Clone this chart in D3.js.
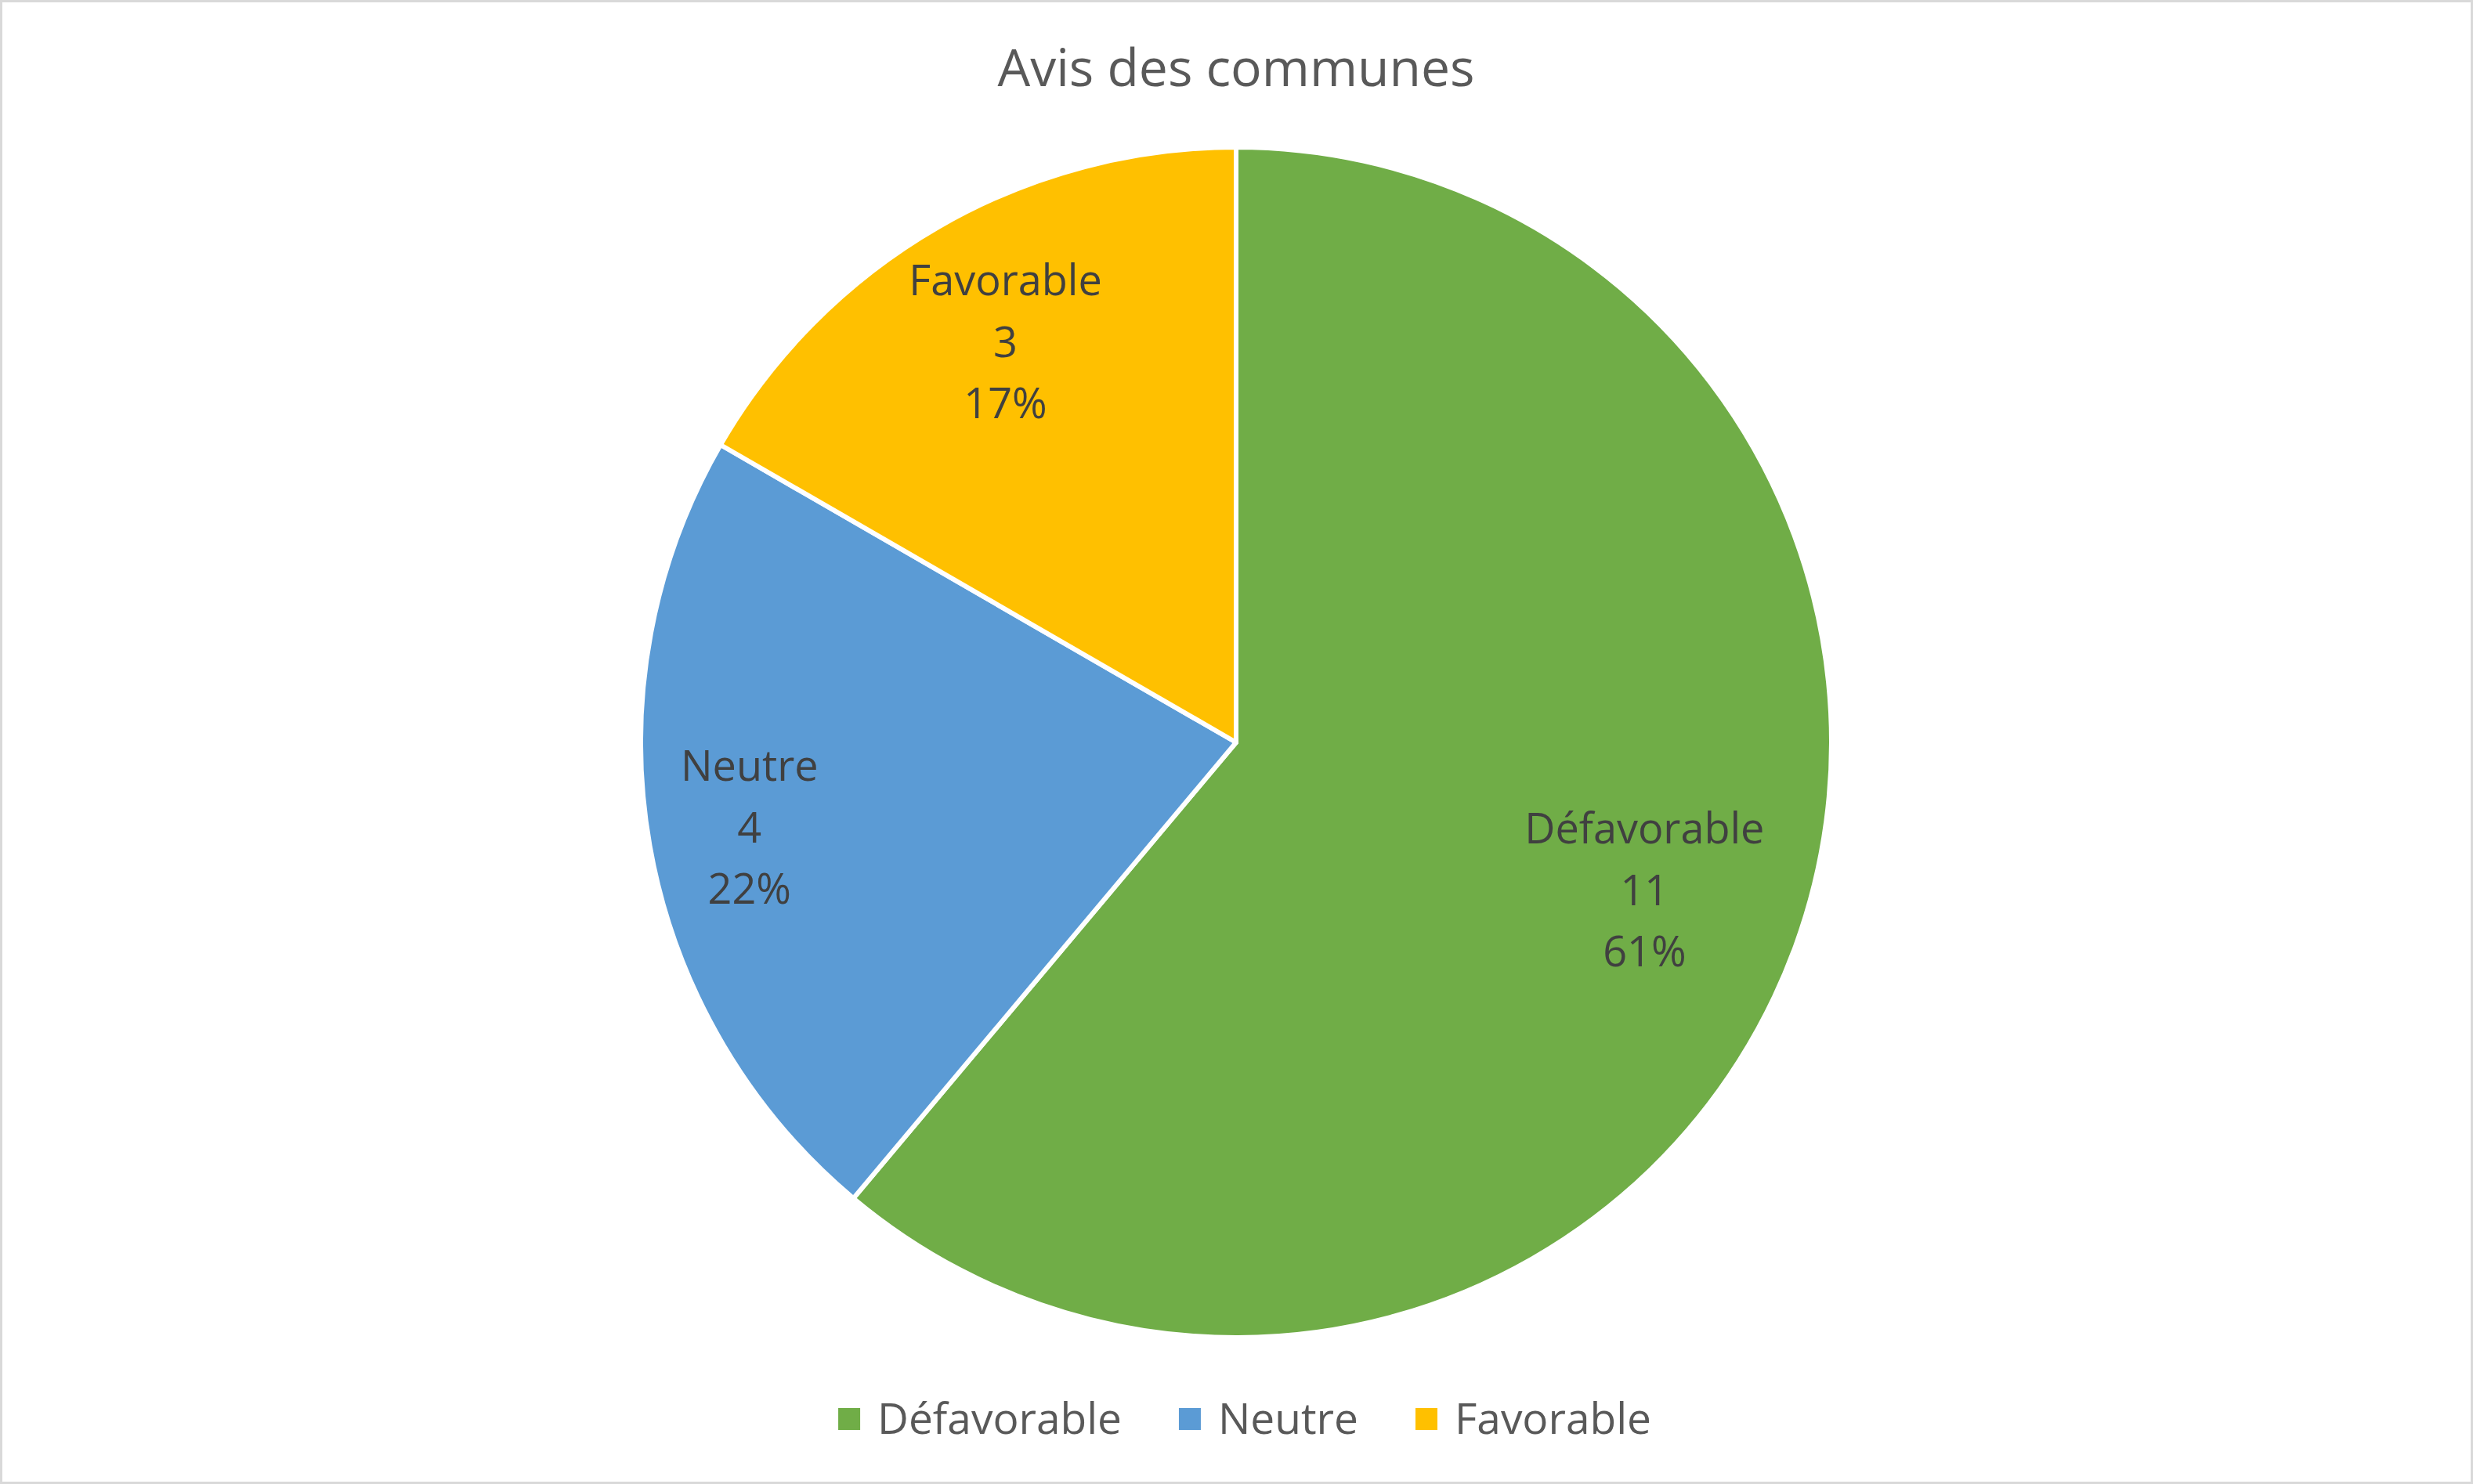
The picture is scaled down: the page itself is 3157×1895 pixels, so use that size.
<!DOCTYPE html>
<html>
<head>
<meta charset="utf-8">
<script src="https://cdn.jsdelivr.net/npm/d3@7"></script>
<style>
  html, body { margin: 0; padding: 0; background: #fff; }
  svg { display: block; font-family: "Open Sans", sans-serif; }
</style>
</head>
<body>
<div id="chart"></div>
<script>
(function () {
  'use strict';

  // data
  const CATEGORIES = ['Défavorable', 'Neutre', 'Favorable'];
  const VALUES = [11, 4, 3];
  const COLORS = ['#70AD47', '#5B9BD5', '#FFC000'];
  const TITLE = 'Avis des communes';

  // label placement along the slice bisector, as a fraction of the radius ("best fit")
  const LABEL_K = [0.73, 0.83, 0.775];

  const W = 3157, H = 1895;
  const cx = 1578, cy = 948, R = 760;

  const svg = d3.select('#chart').append('svg').attr('width', W).attr('height', H);

  // outer frame
  svg.append('rect').attr('x', 1.5).attr('y', 1.5).attr('width', W - 3).attr('height', H - 3)
    .attr('fill', '#fff').attr('stroke', '#D9D9D9').attr('stroke-width', 3);

  // title
  svg.append('text').attr('x', 1578).attr('y', 110).attr('text-anchor', 'middle')
    .style('font-size', '66px').style('fill', '#595959').text(TITLE);

  const data = CATEGORIES.map((c, i) => ({ cat: c, value: VALUES[i], color: COLORS[i] }));
  const total = d3.sum(VALUES);
  const pie = d3.pie().sort(null).value(d => d.value);
  const arcs = pie(data);
  const arc = d3.arc().innerRadius(0).outerRadius(R);

  const g = svg.append('g').attr('transform', `translate(${cx},${cy})`);
  g.selectAll('path.slice').data(arcs).enter().append('path')
    .attr('class', 'slice')
    .attr('d', arc)
    .attr('fill', d => d.data.color)
    .attr('stroke', '#fff').attr('stroke-width', 6).attr('stroke-linejoin', 'round');

  // data labels: name / value / percent
  const pct = d3.format('.0%');
  const lineH = 78.5;
  arcs.forEach((a, i) => {
    const mid = (a.startAngle + a.endAngle) / 2;
    const x = Math.sin(mid) * R * LABEL_K[i];
    const y = -Math.cos(mid) * R * LABEL_K[i];
    const lines = [a.data.cat, String(a.data.value), pct(a.data.value / total)];
    const t = g.append('text').attr('text-anchor', 'middle')
      .style('font-size', '54px').style('fill', '#404040');
    lines.forEach((s, j) => {
      t.append('tspan').attr('x', x).attr('y', y + 18 + (j - 1) * lineH).text(s);
    });
  });

  // legend, centred under the pie
  const leg = svg.append('g');
  const sq = 28, gapText = 22, gapItem = 73;
  let xx = 0;
  data.forEach(d => {
    const it = leg.append('g').attr('transform', `translate(${xx},0)`);
    it.append('rect').attr('x', 0).attr('y', -sq / 2).attr('width', sq).attr('height', sq).attr('fill', d.color);
    const tx = it.append('text').attr('x', sq + gapText).attr('y', 19)
      .style('font-size', '55px').style('fill', '#595959').text(d.cat);
    xx += sq + gapText + tx.node().getComputedTextLength() + gapItem;
  });
  const legW = xx - gapItem;
  leg.attr('transform', `translate(${1589 - legW / 2},1812)`);
})();
</script>
</body>
</html>
